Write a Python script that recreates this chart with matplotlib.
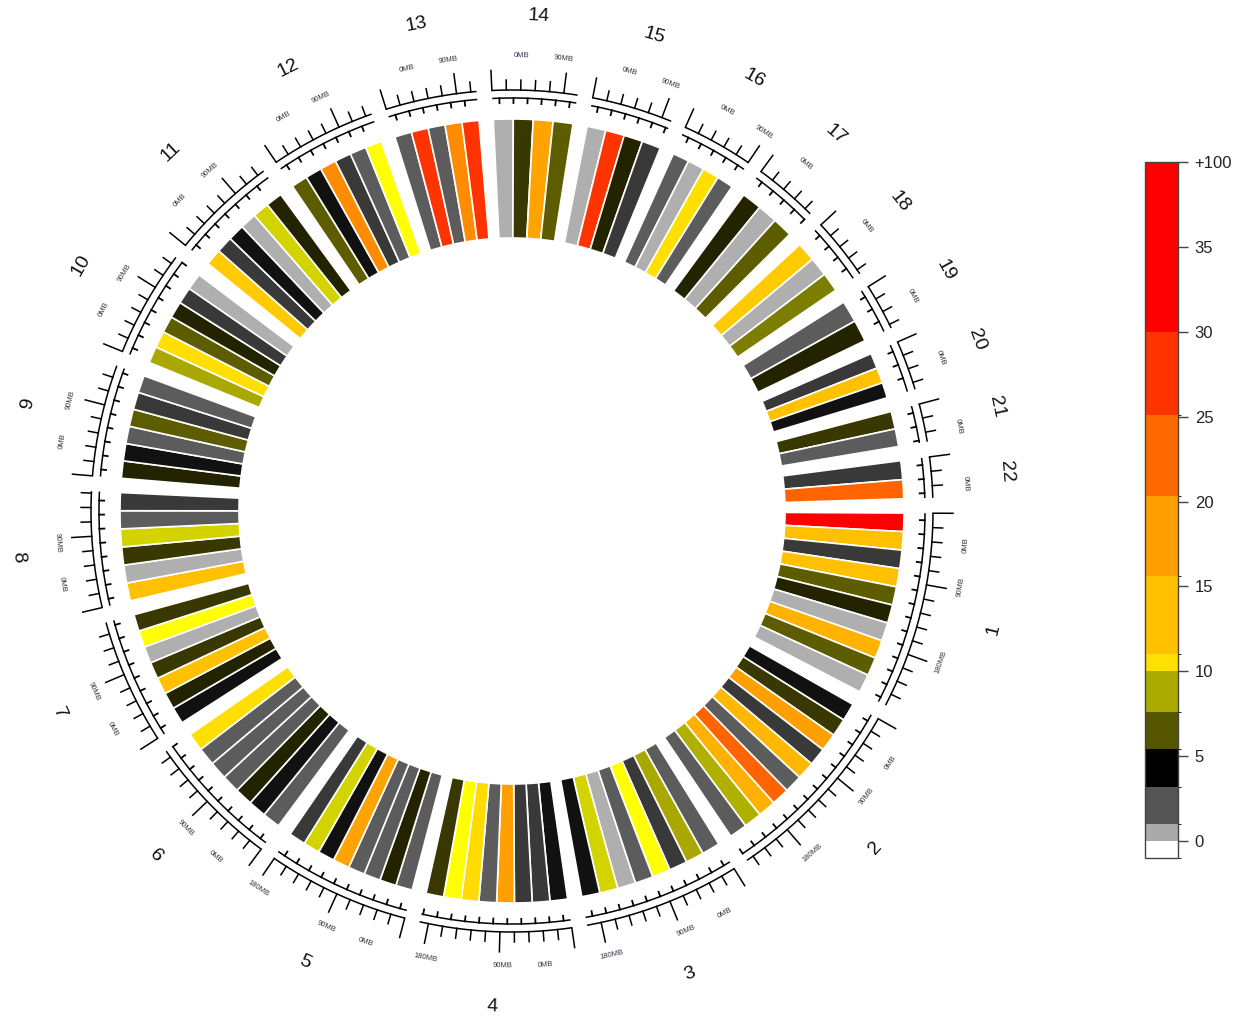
import numpy as np
import matplotlib
matplotlib.use("Agg")
import matplotlib.pyplot as plt
from matplotlib.colors import LinearSegmentedColormap, ListedColormap, BoundaryNorm
from matplotlib.cm import ScalarMappable

plt.rcParams['font.family'] = ['Liberation Sans', 'DejaVu Sans']

# ---------------- data ----------------
chromosomes = [str(i) for i in range(1, 23)]
chrom_length_mb = [249.3, 243.2, 198.0, 191.2, 180.9, 171.1, 159.1, 146.4, 141.2,
                   135.5, 135.0, 133.9, 115.2, 107.3, 102.5, 90.4, 81.2, 78.1,
                   59.1, 63.0, 48.1, 51.3]

# bin values per chromosome (clockwise order)
chr1_values = [35, 13, 2.8, 13, 6.8, 5.0, 0.5, 15, 6.8, 0.5]
chr2_values = [3.6, 5.7, 18, 2.8, 14.5, 2, 22.5, 15.5, 9.1, 2]
chr3_values = [2, 9, 2.8, 10.5, 2, 0.5, 9.75, 3.6]
chr4_values = [3.6, 2.8, 2.8, 18, 2, 12, 10.5, 5.7]
chr5_values = [2, 5, 2, 2, 17.5, 3.6, 9.75, 2.8]
chr6_values = [2, 3.6, 5, 2, 2, 2, 11.8]
chr7_values = [3.6, 5, 13, 5.7, 0.5, 10.5, 5.7]
chr8_values = [13, 0.5, 5.7, 9.75, 2, 2.8]
chr9_values = [5, 3.6, 2, 6.8, 2.8, 2]
chr10_values = [9, 11.8, 6.8, 5, 2.8, 0.5]
chr11_values = [12.5, 2.8, 3.6, 0.5, 9.75, 5]
chr12_values = [6.8, 3.6, 19.5, 2.8, 2, 10.5]
chr13_values = [2, 27, 2, 19.5, 27]
chr14_values = [0.5, 5.7, 17.5, 6.8]
chr15_values = [0.5, 27, 5, 2.8]
chr16_values = [2, 0.5, 11.8, 2]
chr17_values = [5, 0.5, 6.8]
chr18_values = [12.5, 0.5, 7.8]
chr19_values = [2, 5]
chr20_values = [2.8, 13, 3.6]
chr21_values = [5.7, 2]
chr22_values = [2.8, 22.5]

scale_labels_mb = [0, 90, 180]

# colour key
cbar_bounds = [-1, 0, 1, 3.2, 5.4, 7.6, 10, 11, 15.6, 20.3, 25.1, 30, 40]
cbar_colors = ['#ffffff', '#aaaaaa', '#555555', '#000000', '#555500', '#aaaa00',
               '#ffe000', '#ffc000', '#ffa000', '#ff6a00', '#ff3300', '#ff0000']
cbar_ticks = [0, 5, 10, 15, 20, 25, 30, 35, 40]
cbar_ticklabels = ['0', '5', '10', '15', '20', '25', '30', '35', '+100']

# continuous colour scale used for the bins
anchor_values = [0, 0.5, 2, 4, 6.5, 9, 10.5, 13, 18, 22, 27, 32, 40]
anchor_colors = ['#ffffff', '#aaaaaa', '#555555', '#000000', '#555500', '#aaaa00',
                 '#ffff00', '#ffc000', '#ffa000', '#ff6a00', '#ff3300', '#ff0000', '#ff0000']

all_values = [chr1_values, chr2_values, chr3_values, chr4_values, chr5_values,
              chr6_values, chr7_values, chr8_values, chr9_values, chr10_values,
              chr11_values, chr12_values, chr13_values, chr14_values, chr15_values,
              chr16_values, chr17_values, chr18_values, chr19_values, chr20_values,
              chr21_values, chr22_values]

vmax = anchor_values[-1]
bin_cmap = LinearSegmentedColormap.from_list(
    'cnv', [(v / vmax, c) for v, c in zip(anchor_values, anchor_colors)])

# ---------------- layout ----------------
W, H = 1260, 1021
fig = plt.figure(figsize=(W / 100, H / 100), dpi=100)
fig.patch.set_facecolor('white')

RMAX = 511
cx, cy = 512, 511  # centre, pixels from top-left
ax = fig.add_axes([(cx - RMAX) / W, (H - cy - RMAX) / H, 2 * RMAX / W, 2 * RMAX / H],
                  projection='polar')
ax.set_theta_zero_location('E')
ax.set_theta_direction(-1)
ax.set_rlim(0, RMAX)
ax.set_axis_off()

gap_deg = 2.09
start_deg = 0.3
deg_per_mb = (360 - len(chromosomes) * gap_deg) / sum(chrom_length_mb)

R_BAR_IN, R_BAR_OUT = 273, 392
R_IN_ARC, R_OUT_ARC = 413, 421
R_SCALE_TXT, R_CHR_TXT = 455, 496


def tang_rot(a):
    a = a % 360
    return 90 - a if a < 180 else 270 - a


d2r = np.deg2rad
s = start_deg
for name, L, vals in zip(chromosomes, chrom_length_mb, all_values):
    span = L * deg_per_mb
    e = s + span
    n = len(vals)
    pitch = span / n
    centers = [s + (j + 0.5) * pitch for j in range(n)]
    cols = [bin_cmap(v / vmax) for v in vals]
    ax.bar(d2r(centers), R_BAR_OUT - R_BAR_IN, width=d2r(pitch), bottom=R_BAR_IN,
           color=cols, edgecolor='white', linewidth=1.2, align='center')

    # ideogram arcs
    th = d2r(np.linspace(s, e, 120))
    ax.plot(th, np.full_like(th, R_OUT_ARC), color='black', lw=1.1, solid_capstyle='butt')
    ax.plot(th, np.full_like(th, R_IN_ARC), color='black', lw=1.1, solid_capstyle='butt')
    for m in np.arange(0, L, 18):
        a = d2r(s + m * deg_per_mb)
        ln = 20 if m % 90 == 0 else 10
        ax.plot([a, a], [R_OUT_ARC, R_OUT_ARC + ln], color='black', lw=1.1)
    for m in np.arange(9, L, 18):
        a = d2r(s + m * deg_per_mb)
        ax.plot([a, a], [R_IN_ARC - 5, R_IN_ARC], color='black', lw=1.3)

    for m in scale_labels_mb:
        if m < L:
            a = s + m * deg_per_mb + (4 if m == 0 else -0.5)
            ax.text(d2r(a), R_SCALE_TXT, f'{m}MB', fontsize=5.5, color='#333344',
                    rotation=tang_rot(a), rotation_mode='anchor',
                    ha='center', va='center')

    mid = (s + e) / 2
    ax.text(d2r(mid), R_CHR_TXT, name, fontsize=14, color='#111111',
            rotation=tang_rot(mid), rotation_mode='anchor', ha='center', va='center')
    s = e + gap_deg

# ---------------- colour key ----------------
cax = fig.add_axes([1145 / W, (H - 858) / H, 33 / W, 696 / H])
cb = fig.colorbar(ScalarMappable(norm=BoundaryNorm(cbar_bounds, len(cbar_colors)),
                                 cmap=ListedColormap(cbar_colors)),
                  cax=cax, spacing='proportional', ticks=cbar_ticks)
cb.set_ticklabels(cbar_ticklabels)
cb.ax.tick_params(labelsize=12, length=7, width=1, color='#444444', pad=5,
                  labelcolor='#222222')
cb.outline.set_edgecolor('#444444')
cb.outline.set_linewidth(1)

fig.savefig('out.png', dpi=100, facecolor='white')
